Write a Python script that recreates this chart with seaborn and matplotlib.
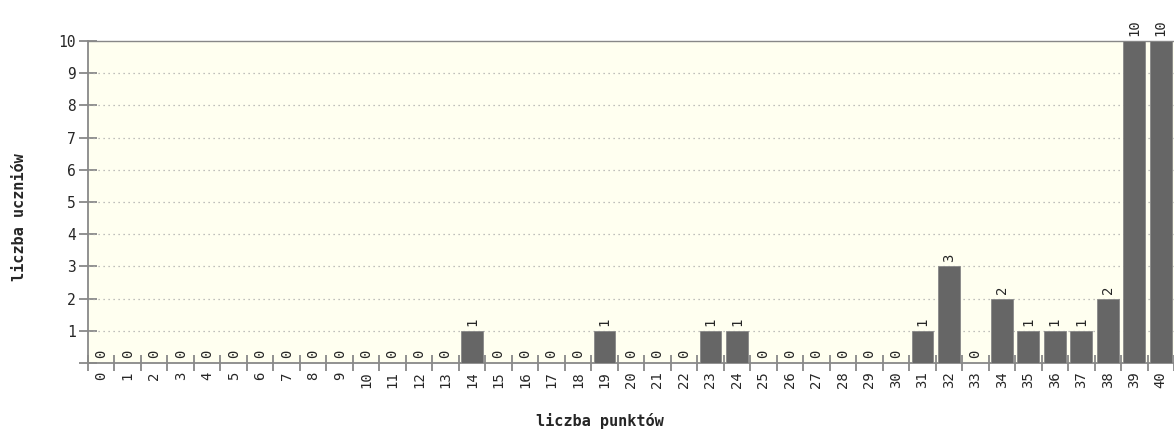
import matplotlib
matplotlib.use("Agg")
import matplotlib.pyplot as plt
import seaborn as sns
import pandas as pd

categories = [str(i) for i in range(41)]
counts = [0, 0, 0, 0, 0, 0, 0, 0, 0, 0,
          0, 0, 0, 0, 1, 0, 0, 0, 0, 1,
          0, 0, 0, 1, 1, 0, 0, 0, 0, 0,
          0, 1, 3, 0, 2, 1, 1, 1, 2, 10,
          10]
y_ticks = [0, 1, 2, 3, 4, 5, 6, 7, 8, 9, 10]
y_ticklabels = ["", "1", "2", "3", "4", "5", "6", "7", "8", "9", "10"]

sns.set_style("white")
plt.rcParams['font.family'] = ['DejaVu Sans Mono', 'DejaVu Sans']

df = pd.DataFrame({"punkty": categories, "uczniowie": counts})

W, H = 1174, 432
fig = plt.figure(figsize=(W / 100, H / 100), dpi=100)
ax = fig.add_axes([88 / W, 1 - 363 / H, (W - 88) / W, (363 - 41) / H])
ax.set_facecolor('#fffff0')

sns.barplot(data=df, x="punkty", y="uczniowie", color='#666666', width=0.82,
            saturation=1, edgecolor='#888888', linewidth=0.6, ax=ax, zorder=3)

ax.set_xlim(-0.5, 40.5)
ax.set_ylim(0, 10)

# grid
for v in y_ticks[1:-1]:
    ax.axhline(v, color='#aaaaaa', linestyle=(0, (1, 3)), linewidth=0.9, zorder=1)

ax.spines['right'].set_visible(False)
ax.spines['top'].set_color('#888888')
ax.spines['top'].set_linestyle((0, (2, 1)))
ax.spines['top'].set_linewidth(1.0)
for s in ['left', 'bottom']:
    ax.spines[s].set_color('#888888')
    ax.spines[s].set_linewidth(1.3)

ax.set_yticks(y_ticks)
ax.set_yticklabels(y_ticklabels, fontsize=10.5)
ax.tick_params(axis='y', left=True, direction='inout', length=13.5, width=1.3,
               color='#888888', pad=2)

ax.set_xticks(range(len(categories)))
ax.set_xticklabels(categories, rotation=90, fontsize=10)
ax.tick_params(axis='x', which='major', bottom=True, length=0, pad=6)
ax.set_xticks([i - 0.5 for i in range(len(categories) + 1)], minor=True)
ax.tick_params(axis='x', which='minor', bottom=True, direction='inout', length=12,
               width=1.3, color='#888888')

ax.set_xlabel("")
ax.set_ylabel("")

for i, v in enumerate(counts):
    ax.text(i, v + 0.15, str(v), rotation=90, ha='center', va='bottom',
            fontsize=10, clip_on=False, zorder=4)

fig.text(600 / W, 1 - 421 / H, "liczba punktów", ha='center', va='center',
         fontsize=11, fontweight='bold')
fig.text(20 / W, 1 - 217 / H, "liczba uczniów", ha='center', va='center',
         rotation=90, fontsize=11, fontweight='bold')

fig.savefig("out.png", dpi=100)
